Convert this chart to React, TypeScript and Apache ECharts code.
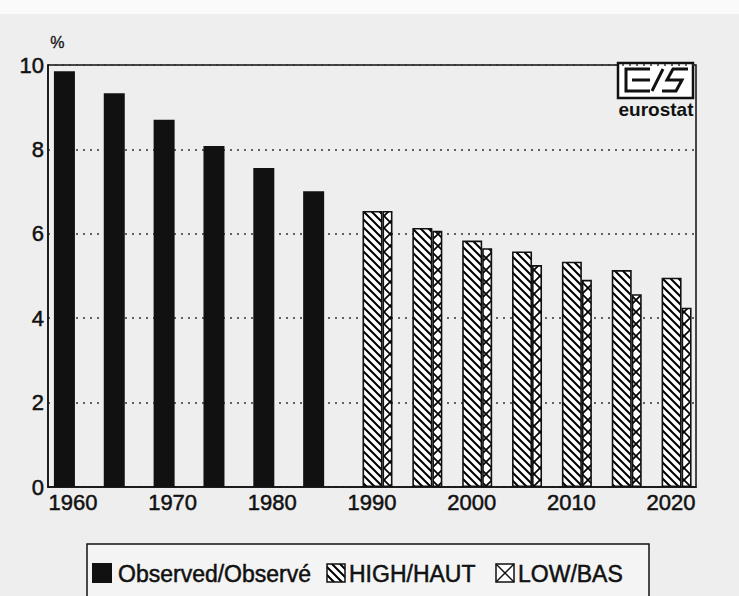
import React, { useEffect, useRef } from "react";
import * as echarts from "echarts";

const years = ["1960", "1965", "1970", "1975", "1980", "1985", "1990", "1995", "2000", "2005", "2010", "2015", "2020"];
const observed = [9.85, 9.33, 8.7, 8.08, 7.56, 7.01, null, null, null, null, null, null, null];
const high = [null, null, null, null, null, null, 6.54, 6.14, 5.84, 5.58, 5.34, 5.14, 4.96];
const low = [null, null, null, null, null, null, 6.54, 6.07, 5.66, 5.26, 4.91, 4.57, 4.25];
const empty = years.map(() => null);
const legendLabels = ["Observed/Observé", "HIGH/HAUT", "LOW/BAS"];
const unitLabel = "%";

const FONT = "'Liberation Sans', Arial, Helvetica, sans-serif";
const INK = "#111111";

function svgUrl(svg: string) {
  return "data:image/svg+xml;charset=utf-8," + encodeURIComponent(svg);
}

const hatchUrl = svgUrl(
  "<svg xmlns='http://www.w3.org/2000/svg' width='8' height='8'><rect width='8' height='8' fill='white'/><path d='M-1,-1 L9,9 M-1,7 L1,9 M7,-1 L9,1' stroke='black' stroke-width='2'/></svg>"
);
const crossUrl = svgUrl(
  "<svg xmlns='http://www.w3.org/2000/svg' width='12' height='12'><rect width='12' height='12' fill='white'/><path d='M-1,-1 L13,13 M-1,13 L13,-1' stroke='black' stroke-width='1.7'/></svg>"
);

const hatchPattern: any = { image: hatchUrl, repeat: "repeat", imageWidth: 8, imageHeight: 8 };
const crossPattern: any = { image: crossUrl, repeat: "repeat", imageWidth: 12, imageHeight: 12 };

const heavy = { textBorderColor: INK, textBorderWidth: 0.5 };
const heavyG = { stroke: INK, lineWidth: 0.5 };

export default function App() {
  const ref = useRef<HTMLDivElement>(null);

  useEffect(() => {
    if (!ref.current) return;
    const chart = echarts.init(ref.current, undefined, { renderer: "svg" });

    const option: any = {
      animation: false,
      backgroundColor: "#eeeeee",
      textStyle: { fontFamily: FONT, color: INK },
      grid: {
        left: 48,
        right: 43,
        top: 65,
        bottom: 109,
        show: true,
        borderColor: INK,
        borderWidth: 1.5,
        backgroundColor: "transparent",
      },
      xAxis: [
        {
          type: "category",
          data: years,
          axisTick: { show: false },
          axisLine: { show: true, lineStyle: { color: INK, width: 1.5 } },
          axisLabel: { interval: 1, fontSize: 22, color: INK, margin: 4, fontFamily: FONT, ...heavy },
          splitLine: { show: false },
        },
        {
          type: "category",
          data: years,
          show: false,
        },
      ],
      yAxis: {
        type: "value",
        min: 0,
        max: 10,
        interval: 2,
        axisLine: { show: true, lineStyle: { color: INK, width: 1.5 } },
        axisTick: { show: false },
        axisLabel: { fontSize: 22, color: INK, margin: 4, fontFamily: FONT, ...heavy },
        splitLine: { show: true, lineStyle: { color: "#333", width: 1.5, type: [2, 5] } },
      },
      series: [
        {
          name: legendLabels[0],
          type: "bar",
          xAxisIndex: 0,
          data: observed,
          barWidth: 21,
          barGap: "0%",
          itemStyle: { color: INK },
          silent: true,
        },
        {
          name: "spacerA",
          type: "bar",
          xAxisIndex: 0,
          data: empty,
          barWidth: 17,
          barGap: "0%",
          silent: true,
        },
        {
          name: "spacerB",
          type: "bar",
          xAxisIndex: 1,
          data: empty,
          barWidth: 11,
          barGap: "0%",
          silent: true,
        },
        {
          name: legendLabels[1],
          type: "bar",
          xAxisIndex: 1,
          data: high,
          barWidth: 20,
          barGap: "0%",
          itemStyle: { color: hatchPattern, borderColor: INK, borderWidth: 1.6 },
          silent: true,
        },
        {
          name: legendLabels[2],
          type: "bar",
          xAxisIndex: 1,
          data: low,
          barWidth: 10,
          barGap: "0%",
          itemStyle: { color: crossPattern, borderColor: INK, borderWidth: 1.6 },
          silent: true,
        },
      ],
      graphic: [
        { type: "rect", silent: true, z: -1, shape: { x: 0, y: 0, width: 739, height: 14 }, style: { fill: "#fafafa" } },
        {
          type: "text",
          left: 50,
          top: 34,
          style: { text: unitLabel, fontSize: 16, fill: INK, fontFamily: FONT, stroke: INK, lineWidth: 0.3 },
        },
        {
          type: "group",
          silent: true,
          children: [
            { type: "rect", shape: { x: 618, y: 63, width: 75, height: 35 }, style: { fill: "#ffffff", stroke: INK, lineWidth: 2.5 } },
            { type: "polyline", shape: { points: [[650, 69], [626, 69], [626, 91], [650, 91]] }, style: { fill: "none", stroke: INK, lineWidth: 3 } },
            { type: "line", shape: { x1: 632, y1: 80, x2: 650, y2: 80 }, style: { stroke: INK, lineWidth: 3 } },
            { type: "line", shape: { x1: 652, y1: 91, x2: 663, y2: 69 }, style: { stroke: INK, lineWidth: 3 } },
            { type: "polyline", shape: { points: [[688, 69], [673, 69], [667, 80], [682, 80], [676, 91], [662, 91]] }, style: { fill: "none", stroke: INK, lineWidth: 3 } },
            {
              type: "text",
              x: 656,
              y: 109,
              style: { text: "eurostat", fontSize: 19, fontWeight: "bold", fill: INK, fontFamily: FONT, align: "center", verticalAlign: "middle" },
            },
          ],
        },
        {
          type: "group",
          silent: true,
          children: [
            { type: "rect", shape: { x: 87, y: 544, width: 562, height: 70 }, style: { fill: "#f4f4f4", stroke: INK, lineWidth: 1.5 } },
            { type: "rect", shape: { x: 92, y: 563, width: 20, height: 20 }, style: { fill: INK } },
            {
              type: "text",
              x: 118,
              y: 574,
              style: { text: legendLabels[0], fontSize: 23, fill: INK, fontFamily: FONT, verticalAlign: "middle", ...heavyG },
            },
            { type: "rect", shape: { x: 327, y: 564, width: 18, height: 18 }, style: { fill: hatchPattern, stroke: INK, lineWidth: 1.5 } },
            {
              type: "text",
              x: 349,
              y: 574,
              style: { text: legendLabels[1], fontSize: 23, fill: INK, fontFamily: FONT, verticalAlign: "middle", ...heavyG },
            },
            { type: "rect", shape: { x: 496, y: 564, width: 18, height: 18 }, style: { fill: "#ffffff", stroke: INK, lineWidth: 1.5 } },
            { type: "line", shape: { x1: 496, y1: 564, x2: 514, y2: 582 }, style: { stroke: INK, lineWidth: 1.5 } },
            { type: "line", shape: { x1: 496, y1: 582, x2: 514, y2: 564 }, style: { stroke: INK, lineWidth: 1.5 } },
            {
              type: "text",
              x: 518,
              y: 574,
              style: { text: legendLabels[2], fontSize: 23, fill: INK, fontFamily: FONT, verticalAlign: "middle", ...heavyG },
            },
          ],
        },
      ],
    };

    chart.setOption(option);
    return () => chart.dispose();
  }, []);

  return (
    <div
      ref={ref}
      style={{ position: "fixed", left: 0, top: 0, width: 739, height: 596 }}
    />
  );
}
